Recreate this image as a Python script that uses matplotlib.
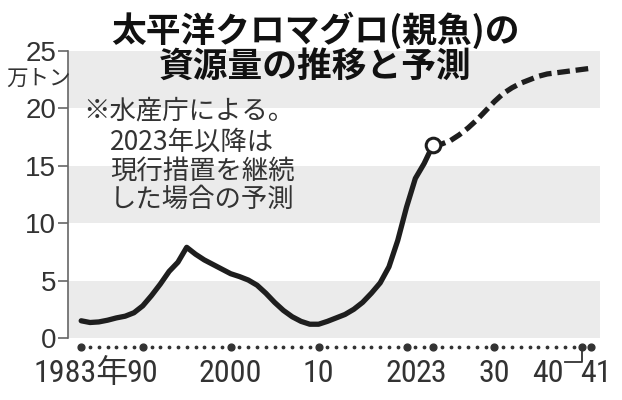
import matplotlib
matplotlib.use("Agg")
import matplotlib.pyplot as plt
from matplotlib import font_manager

# ---------- data ----------

years_actual = list(range(1983, 2024))
biomass_actual = [
    1.5, 1.35, 1.4, 1.55, 1.75, 1.9, 2.2, 2.8, 3.7, 4.7,      # 1983-1992
    5.8, 6.6, 7.9, 7.3, 6.8, 6.4, 6.0, 5.6, 5.35, 5.05,       # 1993-2002
    4.6, 3.9, 3.1, 2.4, 1.85, 1.45, 1.2, 1.2, 1.45, 1.75,     # 2003-2012
    2.05, 2.5, 3.1, 3.9, 4.8, 6.2, 8.5, 11.4, 13.9, 15.2,     # 2013-2022
    16.8,                                                    # 2023
]

years_forecast = list(range(2023, 2042))
biomass_forecast = [
    16.8, 16.9, 17.2, 17.7, 18.3, 19.0, 19.8, 20.6, 21.3, 21.8,  # 2023-2032
    22.2, 22.5, 22.8, 23.0, 23.1, 23.2, 23.3, 23.4, 23.5,        # 2033-2041
]

label_years = [1983, 1990, 2000, 2010, 2020, 2023, 2030, 2040, 2041]
label_texts = ["1983年", "90", "2000", "10", "20", "23", "30", "40", "41"]

y_ticks = [0, 5, 10, 15, 20, 25]
bands = [(0, 5), (10, 15), (20, 25)]

title_lines = ["太平洋クロマグロ(親魚)の", "資源量の推移と予測"]
note_lines = ["※水産庁による。", "2023年以降は", "現行措置を継続", "した場合の予測"]
unit_label = "万トン"

# label nudges (in years) so the crowded labels sit like the original
LABEL_NUDGE = {"20": -0.6, "23": -0.2, "40": -3.9, "41": 0.5}

# ---------- fonts ----------

CJK = "Noto Sans CJK JP"
NARROW_STRETCH = ("condensed", "semi-condensed", "extra-condensed", "ultra-condensed")


def pick_narrow():
    fonts = font_manager.fontManager.ttflist
    for want in ("Liberation Sans Narrow", "Roboto Condensed", "Noto Sans"):
        for f in fonts:
            if f.name == want and ("Narrow" in want or "Condensed" in want
                                   or f.stretch in NARROW_STRETCH):
                return f.name, f.stretch
    for f in fonts:
        if f.stretch in NARROW_STRETCH or "Narrow" in f.name or "Condensed" in f.name:
            return f.name, f.stretch
    return None, None


narrow_name, narrow_stretch = pick_narrow()
if narrow_name:
    XFONT = dict(family=[narrow_name, CJK], fontstretch=narrow_stretch, fontsize=23)
else:
    XFONT = dict(family=["Roboto", CJK], fontsize=21)

INK = "#1e1e1e"
TEXT = "#333333"
BAND = "#ebebeb"
AXIS = "#666666"

plt.rcParams["font.family"] = ["Liberation Sans", CJK]

fig = plt.figure(figsize=(6.22, 4.0), dpi=100)
ax = fig.add_axes([68 / 622, 62 / 400, 532 / 622, 287 / 400])

for lo, hi in bands:
    ax.axhspan(lo, hi, color=BAND, lw=0, zorder=0)

ax.plot(years_actual, biomass_actual, color=INK, lw=3.8,
        solid_capstyle="round", solid_joinstyle="round", zorder=3)
ax.plot(years_forecast, biomass_forecast, color=INK, lw=3.8,
        dashes=(2.4, 1.1), dash_capstyle="butt", zorder=3)
ax.plot([years_actual[-1]], [biomass_actual[-1]], marker="o", ms=10.5,
        mfc="white", mec=INK, mew=2.2, zorder=4)

ax.set_xlim(1981.5, 2042.0)
ax.set_ylim(0, 25)

for side in ("top", "right", "bottom"):
    ax.spines[side].set_visible(False)
ax.spines["left"].set_color(AXIS)
ax.spines["left"].set_linewidth(1.2)

ax.set_xticks([])
ax.set_yticks(y_ticks)
ax.tick_params(axis="y", length=7, width=1.2, color=AXIS, pad=1.5,
               labelsize=20, labelcolor=TEXT)

# dotted year axis below the plot
xt = ax.get_xaxis_transform()
all_years = list(range(years_actual[0], years_forecast[-1] + 1))
ax.scatter(all_years, [-0.031] * len(all_years), s=3, color=TEXT,
           transform=xt, clip_on=False, zorder=3)
ax.scatter(label_years, [-0.031] * len(label_years), s=24, color=TEXT,
           transform=xt, clip_on=False, zorder=3)

for yr, txt in zip(label_years, label_texts):
    ax.text(yr + LABEL_NUDGE.get(txt, 0), -0.153, txt, transform=xt,
            ha="center", va="baseline", color=TEXT, clip_on=False, **XFONT)

# leader from the shifted "40" label to its dot
ax.plot([2040 + LABEL_NUDGE["40"] + 1.9, 2040, 2040], [-0.085, -0.085, -0.031],
        transform=xt, color=TEXT, lw=1.3, clip_on=False)

# unit, title, note
fig.text(38 / 622, 1 - 79 / 400, unit_label, ha="center", va="center",
         fontsize=15.5, color=TEXT, family=CJK)

for line, yc in zip(title_lines, [30, 66]):
    fig.text(315 / 622, 1 - yc / 400, line, ha="center", va="center",
             fontsize=25, fontweight="bold", color="#111111", family=CJK)

for i, (line, yc) in enumerate(zip(note_lines, [111, 142, 171.5, 199.5])):
    x = 83 if i == 0 else 110
    fig.text(x / 622, 1 - yc / 400, line, ha="left", va="center",
             fontsize=19, color=TEXT, family=CJK)

fig.savefig("out.png", dpi=100)
